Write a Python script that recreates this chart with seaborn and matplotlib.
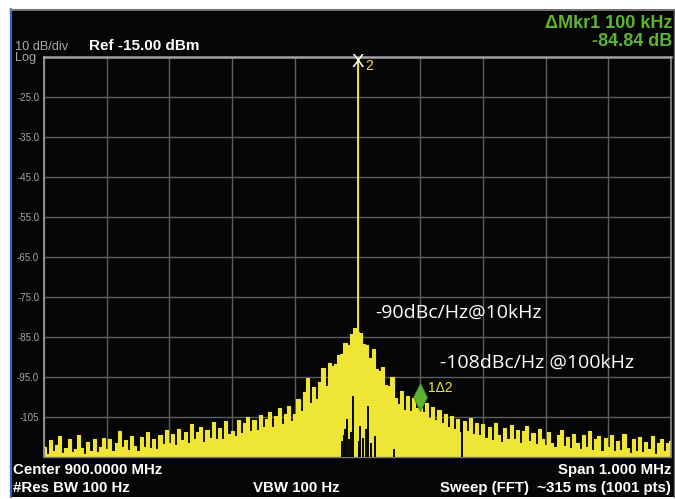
import numpy as np
import pandas as pd
import matplotlib
matplotlib.use("Agg")
import matplotlib.pyplot as plt
from matplotlib.patches import Rectangle
from matplotlib.lines import Line2D
import seaborn as sns

# ---- measurement data -------------------------------------------------------
center_mhz = 900.0
span_khz = 1000
ref_dbm = -15.0
db_per_div = 10

# frequency offset from centre, 5 kHz steps
offset_khz = np.arange(-500, 505, 5)

# trace level (dBm), one row per 100 kHz division
trace_dbm = [
    # -500 .. -405
    -112.5, -114.2, -110.8, -113.6, -112.0, -109.8, -114.0, -112.8, -110.6, -113.8,
    -113.0, -109.6, -112.8, -114.2, -111.2, -113.4, -110.4, -113.8, -112.6, -110.2,
    # -400 .. -305
    -113.0, -110.4, -113.4, -111.6, -108.4, -112.6, -110.8, -113.2, -109.8, -112.2,
    -113.6, -110.0, -112.4, -108.8, -112.8, -110.6, -113.0, -109.6, -111.8, -108.2,
    # -300 .. -205
    -111.6, -109.2, -112.0, -108.0, -110.8, -108.8, -111.6, -106.8, -110.6, -108.8,
    -107.6, -111.2, -108.2, -110.2, -106.2, -110.4, -107.8, -110.6, -106.0, -109.2,
    # -200 .. -105
    -108.4, -109.8, -105.8, -109.0, -106.6, -105.0, -108.6, -105.8, -108.2, -104.4,
    -107.6, -105.4, -103.8, -107.4, -104.8, -102.8, -106.8, -104.2, -102.2, -106.0,
    # -100 .. -5
    -104.2, -100.6, -103.6, -98.8, -95.2, -101.4, -97.6, -100.4, -96.2, -92.8,
    -97.2, -91.6, -92.2, -91.8, -89.6, -89.2, -86.4, -87.0, -84.2, -82.8,
    # 0 .. 95
    -83.8, -84.0, -86.8, -87.0, -90.2, -88.0, -93.0, -93.6, -92.4, -97.0,
    -97.2, -95.0, -100.2, -101.8, -98.4, -103.2, -99.8, -103.6, -100.2, -102.8,
    # 100 .. 195
    -100.0, -103.8, -101.4, -105.2, -102.4, -105.8, -103.2, -106.6, -104.2, -107.4,
    -104.8, -108.0, -105.4, -108.8, -106.0, -108.4, -105.2, -109.2, -106.6, -109.4,
    # 200 .. 295
    -106.8, -110.2, -107.6, -110.8, -106.4, -109.6, -111.2, -107.8, -110.4, -107.0,
    -110.6, -108.2, -111.6, -108.6, -107.2, -111.0, -109.0, -111.8, -108.0, -110.6,
    # 300 .. 395
    -112.0, -108.8, -111.4, -112.6, -109.6, -108.2, -112.2, -110.0, -112.8, -109.2,
    -111.6, -113.0, -109.4, -112.4, -108.6, -113.2, -110.6, -109.8, -113.4, -110.2,
    # 400 .. 495
    -112.6, -109.6, -113.6, -111.0, -113.2, -109.2, -112.8, -114.0, -110.4, -113.4,
    -110.0, -113.8, -111.2, -113.0, -109.8, -114.2, -111.4, -110.6, -113.6, -111.6,
    # 500
    -111.0,
]

# carrier (marker 2) and delta marker 1
carrier_offset_khz = 0
carrier_dbm = -15.16
mkr1_offset_khz = 100
mkr1_delta_db = -84.84

# trace drop-outs near the carrier (offset kHz, top of gap in dBm)
gap_offset_khz = [-24, -22, -20, -17, -13, -10, -7, 2, 4, 9, 14, 17, 22, 28, 58, 167]
gap_top_dbm = [-111.0, -109.5, -108.0, -105.5, -110.5, -108.8, -99.8, -111.0, -107.3, -110.2,
               -108.0, -102.3, -111.5, -109.8, -113.0, -105.5]

ytick_values = [-25, -35, -45, -55, -65, -75, -85, -95, -105]
ytick_labels = ["-25.0", "-35.0", "-45.0", "-55.0", "-65.0", "-75.0", "-85.0", "-95.0", "-105"]

# ---- styling ------------------------------------------------------------------
sns.set_theme(style="dark")
plt.rcParams["font.family"] = ["Liberation Sans", "DejaVu Sans"]

BG = "#050505"
GRID = "#5e5e5e"
TRACE = "#efe535"
GREEN = "#5cb531"
W, H = 675, 499


def fx(px):
    return px / W


def fy(py):
    return 1 - py / H


fig = plt.figure(figsize=(W / 100, H / 100), dpi=100, facecolor="white")

# instrument screen
fig.patches.append(Rectangle((fx(10), fy(497)), fx(674) - fx(10), fy(9) - fy(497),
                             transform=fig.transFigure, facecolor=BG,
                             edgecolor="none", zorder=-10))
fig.lines.append(Line2D([fx(10.5), fx(10.5)], [fy(9), fy(497)], transform=fig.transFigure,
                        color="#2f62c4", lw=1.6, zorder=-5))
fig.lines.append(Line2D([fx(10), fx(674)], [fy(9.5), fy(9.5)], transform=fig.transFigure,
                        color="#8a8a8a", lw=1.2, zorder=-5))
fig.lines.append(Line2D([fx(673.5), fx(673.5)], [fy(9), fy(497)], transform=fig.transFigure,
                        color="#6a6a6a", lw=1.0, zorder=-5))

ax = fig.add_axes([fx(44), fy(457), fx(671) - fx(44), fy(57) - fy(457)])
ax.set_zorder(1)
ax.set_facecolor(BG)
ax.set_xlim(-span_khz / 2, span_khz / 2)
ax.set_ylim(ref_dbm - 10 * db_per_div, ref_dbm)

# trace
df = pd.DataFrame({"offset_khz": offset_khz, "level_dbm": trace_dbm})
ax.fill_between(df["offset_khz"], ref_dbm - 10 * db_per_div, df["level_dbm"],
                step="mid", color=TRACE, lw=0, zorder=2)
sns.lineplot(data=df, x="offset_khz", y="level_dbm", ax=ax, color=TRACE, lw=0.8,
             drawstyle="steps-mid", zorder=3)

# drop-outs
ax.vlines(gap_offset_khz, ref_dbm - 10 * db_per_div, gap_top_dbm, color=BG, lw=1.4, zorder=3.5)

# carrier
floor_at_carrier = df.loc[df["offset_khz"] == carrier_offset_khz, "level_dbm"].iloc[0]
ax.vlines(carrier_offset_khz, floor_at_carrier, carrier_dbm, color=TRACE, lw=1.4, zorder=4)

ax.set_xticks(np.arange(-500, 501, 100))
ax.set_xticklabels([])
ax.set_yticks(ytick_values)
ax.set_yticklabels(ytick_labels)
ax.tick_params(axis="both", length=0)
ax.tick_params(axis="y", pad=3.5, labelsize=7, labelcolor="#a6a6a6")
ax.grid(True, color=GRID, lw=1.0, zorder=0)
ax.set_axisbelow(True)
ax.set_xlabel("")
ax.set_ylabel("")
for side, col, lw in [("top", "#a2a2a2", 1.8), ("left", "#8e8e8e", 1.4),
                      ("right", "#8e8e8e", 1.2), ("bottom", "#7a7a7a", 1.0)]:
    ax.spines[side].set_visible(True)
    ax.spines[side].set_color(col)
    ax.spines[side].set_linewidth(lw)

# marker 2 on the carrier
ax.annotate("X", (carrier_offset_khz, carrier_dbm), xytext=(0, -5), textcoords="offset pixels",
            ha="center", va="center", color="white", fontsize=13.5, zorder=6,
            annotation_clip=False)
ax.annotate("2", (carrier_offset_khz, carrier_dbm), xytext=(8, -12), textcoords="offset pixels",
            ha="left", va="baseline", color="#f2e83a", fontsize=10, zorder=6,
            annotation_clip=False)

# delta marker 1
mkr1_dbm = carrier_dbm + mkr1_delta_db
diamond = [(-0.5, 0), (0, 1), (0.5, 0), (0, -1), (-0.5, 0)]
ax.plot([mkr1_offset_khz], [mkr1_dbm], marker=diamond, markersize=20,
        color=GREEN, markeredgecolor="#3d8a20", markeredgewidth=0.6, zorder=6)
ax.annotate("1\u03942", (mkr1_offset_khz, mkr1_dbm), xytext=(8, 5), textcoords="offset pixels",
            ha="left", va="baseline", color="#f2e83a", fontsize=10, zorder=6)

# screen annotations
fig.text(fx(15), fy(50), "10 dB/div", color="#a8a8a8", fontsize=9.2, va="baseline")
fig.text(fx(15), fy(61), "Log", color="#a8a8a8", fontsize=9.2, va="baseline")
fig.text(fx(89), fy(49.5), "Ref -15.00 dBm", color="white", fontsize=11,
         fontweight="bold", va="baseline")
fig.text(fx(672), fy(28), "\u0394Mkr1 100 kHz", color=GREEN, fontsize=13,
         fontweight="bold", ha="right", va="baseline")
fig.text(fx(672), fy(45.5), f"{mkr1_delta_db:.2f} dB", color=GREEN, fontsize=13,
         fontweight="bold", ha="right", va="baseline")

bottom_font = 10.8
fig.text(fx(13), fy(474), f"Center {center_mhz:.4f} MHz", color="white", fontsize=bottom_font,
         fontweight="bold", va="baseline")
fig.text(fx(671), fy(474), f"Span {span_khz / 1000:.3f} MHz", color="white", fontsize=bottom_font,
         fontweight="bold", ha="right", va="baseline")
fig.text(fx(13), fy(492), "#Res BW 100 Hz", color="white", fontsize=bottom_font,
         fontweight="bold", va="baseline")
fig.text(fx(253), fy(492), "VBW 100 Hz", color="white", fontsize=bottom_font,
         fontweight="bold", va="baseline")
fig.text(fx(671), fy(492), "Sweep (FFT)  ~315 ms (1001 pts)", color="white", fontsize=bottom_font,
         fontweight="bold", ha="right", va="baseline")

fig.text(fx(375), fy(318), "-90dBc/Hz@10kHz", color="white", fontsize=14,
         family=["Open Sans", "DejaVu Sans"], va="baseline", zorder=5)
fig.text(fx(440), fy(368), "-108dBc/Hz @100kHz", color="white", fontsize=14,
         family=["Open Sans", "DejaVu Sans"], va="baseline", zorder=5)

fig.savefig("out.png", dpi=100, facecolor=fig.get_facecolor())
